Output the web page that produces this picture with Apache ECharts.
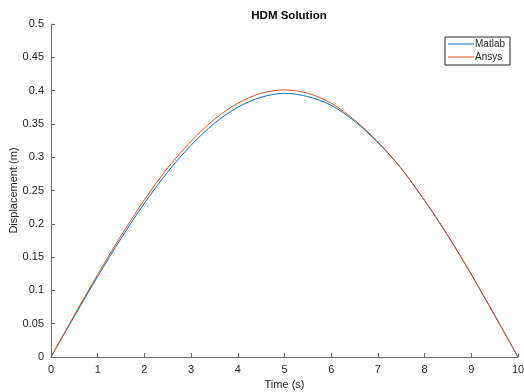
<!DOCTYPE html>
<html>
<head>
<meta charset="utf-8">
<title>HDM Solution</title>
<script src="https://cdn.jsdelivr.net/npm/echarts@6/dist/echarts.min.js"></script>
<style>
html, body { margin: 0; padding: 0; background: #fff; }
#chart { width: 524px; height: 392px; }
</style>
</head>
<body>
<div id="chart"></div>
<script>
// time samples (s)
var time = [0, 0.5, 1, 1.5, 2, 2.5, 3, 3.5, 4, 4.5, 5, 5.5, 6, 6.5, 7, 7.5, 8, 8.5, 9, 9.5, 10];
// displacement (m)
var matlab = [0, 0.061, 0.121, 0.178, 0.231, 0.278, 0.318, 0.351, 0.375, 0.390, 0.396, 0.391, 0.378, 0.354, 0.322, 0.283, 0.235, 0.182, 0.124, 0.063, 0];
var ansys  = [0, 0.063, 0.124, 0.182, 0.236, 0.284, 0.324, 0.357, 0.381, 0.396, 0.401, 0.396, 0.381, 0.356, 0.323, 0.283, 0.235, 0.182, 0.124, 0.062, 0];

function pairs(ys) {
    var out = [];
    for (var i = 0; i < time.length; i++) out.push([time[i], ys[i]]);
    return out;
}

var axisColor = '#6b6b6b';
var textColor = '#262626';
var font = 'Liberation Sans, Arial, sans-serif';

var chart = echarts.init(document.getElementById('chart'));
chart.setOption({
    animation: false,
    textStyle: { fontFamily: font },
    title: {
        text: 'HDM Solution',
        left: 284, top: 5, textAlign: 'center',
        textStyle: { fontSize: 11.5, fontWeight: 'bold', color: '#000', fontFamily: font }
    },
    legend: {
        orient: 'vertical',
        right: 14, top: 37,
        icon: 'rect',
        itemWidth: 26, itemHeight: 1, itemGap: 1,
        padding: [1, 5, 2, 3],
        borderColor: '#262626', borderWidth: 1,
        backgroundColor: '#fff',
        textStyle: { fontSize: 10, lineHeight: 12, color: textColor, fontFamily: font, padding: [0, 0, 0, -4] },
        data: ['Matlab', 'Ansys']
    },
    grid: { left: 51, right: 6, top: 24, bottom: 35, containLabel: false, outerBoundsMode: 'none' },
    xAxis: {
        type: 'value', min: 0, max: 10, interval: 1,
        name: 'Time (s)', nameLocation: 'middle', nameGap: 21,
        nameTextStyle: { fontSize: 11, color: textColor, fontFamily: font },
        axisLine: { lineStyle: { color: axisColor, width: 1 } },
        axisTick: { show: true, inside: true, length: 4, lineStyle: { color: axisColor } },
        axisLabel: { fontSize: 11, color: textColor, margin: 7 },
        splitLine: { show: false }
    },
    yAxis: {
        type: 'value', min: 0, max: 0.5, interval: 0.05,
        name: 'Displacement (m)', nameLocation: 'middle', nameGap: 32, nameMoveOverlap: false,
        nameTextStyle: { fontSize: 11, color: textColor, fontFamily: font },
        axisLine: { show: true, lineStyle: { color: axisColor, width: 1 } },
        axisTick: { show: true, inside: true, length: 4, lineStyle: { color: axisColor } },
        axisLabel: { fontSize: 11, color: textColor, margin: 7 },
        splitLine: { show: false }
    },
    series: [
        {
            name: 'Matlab', type: 'line', data: pairs(matlab),
            smooth: 0.3, symbol: 'none', showSymbol: false,
            lineStyle: { color: '#0072BD', width: 1 },
            itemStyle: { color: '#0072BD' }
        },
        {
            name: 'Ansys', type: 'line', data: pairs(ansys),
            smooth: 0.3, symbol: 'none', showSymbol: false,
            lineStyle: { color: '#D95319', width: 1 },
            itemStyle: { color: '#D95319' }
        }
    ]
});
</script>
</body>
</html>
